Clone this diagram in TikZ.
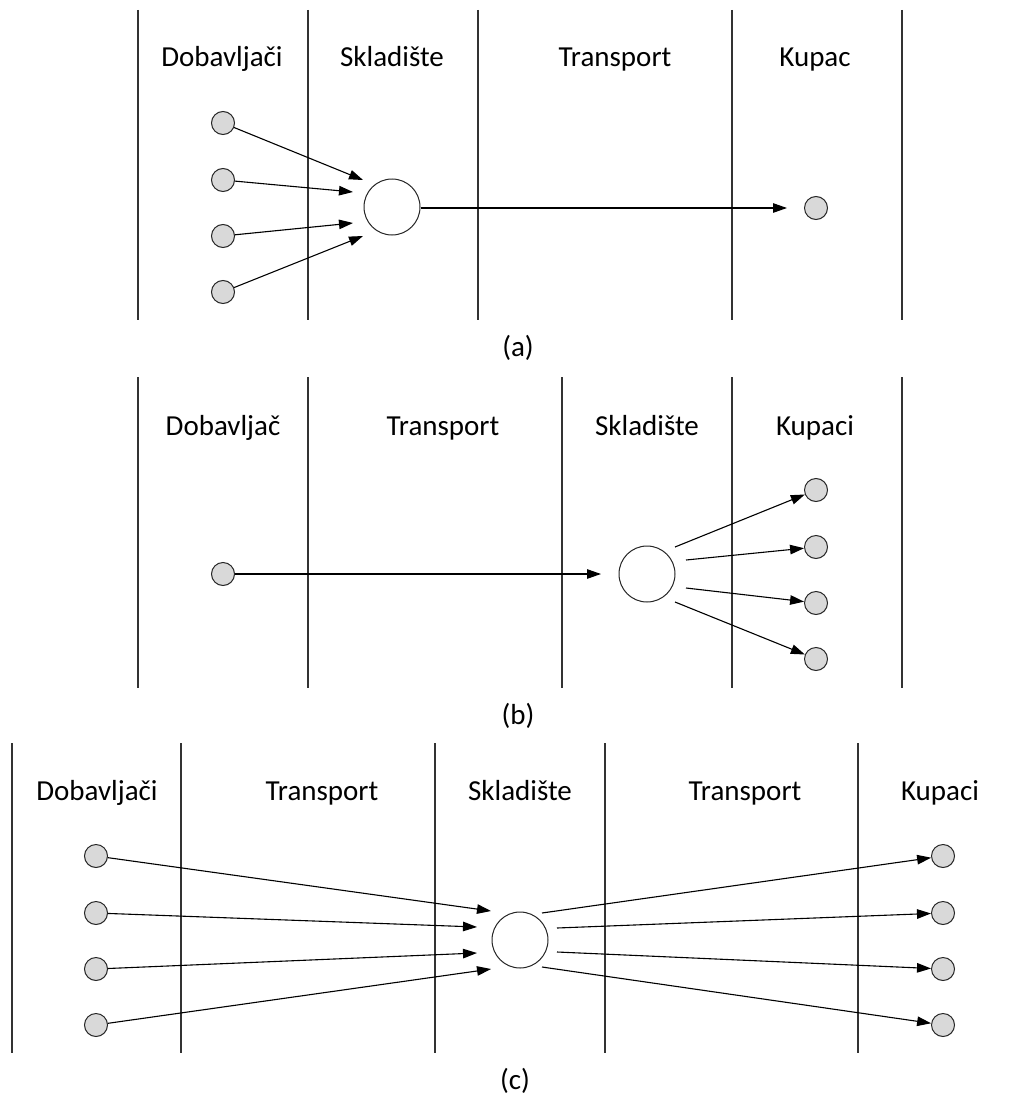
\documentclass[tikz,border=0pt]{standalone}
\usepackage{fontspec}
\setmainfont{Carlito}
\usetikzlibrary{arrows.meta}
\definecolor{cfill}{HTML}{D9D9D9}
\tikzset{
  lane/.style={draw=black!80, line width=1.1pt},
  lbl/.style={anchor=base, inner sep=0pt, font=\fontsize{29}{34}\selectfont},
  small/.style={circle, draw=black!85, fill=cfill, line width=1pt, minimum size=23pt, inner sep=0pt},
  big/.style={circle, draw=black!85, fill=white, line width=1pt, minimum size=56pt, inner sep=0pt},
  arr/.style={draw=black, line width=1.1pt, -{Triangle[length=14pt,width=9.5pt]}},
  ln/.style={draw=black, line width=1.1pt}
}
\begin{document}
\begin{tikzpicture}[x=1pt,y=-1pt]
\useasboundingbox (0,0) rectangle (1021,1097);
% ---------------- (a)
\foreach \xx in {138,308,478,732,902} \draw[lane] (\xx,10) -- (\xx,320);
\node[lbl] (a-l1) at (222,67) {Dobavljači};
\node[lbl] (a-l2) at (392,67) {Skladište};
\node[lbl] (a-l3) at (615,67) {Transport};
\node[lbl] (a-l4) at (815,67) {Kupac};
\node[small] (a-s1) at (223,123) {};
\node[small] (a-s2) at (223,180) {};
\node[small] (a-s3) at (223,236) {};
\node[small] (a-s4) at (223,292) {};
\node[big] (a-w) at (392,207) {};
\node[small] (a-k) at (816,208) {};
\coordinate (a-t1) at (363,180);
\coordinate (a-t2) at (353,192);
\coordinate (a-t3) at (353,223);
\coordinate (a-t4) at (363,236);
\coordinate (a-t5) at (787,208);
\draw[arr] (a-s1) -- (a-t1);
\draw[arr] (a-s2) -- (a-t2);
\draw[arr] (a-s3) -- (a-t3);
\draw[arr] (a-s4) -- (a-t4);
\draw[arr] (a-w.east |- a-t5) -- (a-t5);
\node[lbl] (a-cap) at (518,356) {(a)};
% ---------------- (b)
\foreach \xx in {138,308,562,732,902} \draw[lane] (\xx,377) -- (\xx,688);
\node[lbl] (b-l1) at (223,435) {Dobavljač};
\node[lbl] (b-l2) at (443,435) {Transport};
\node[lbl] (b-l3) at (647,435) {Skladište};
\node[lbl] (b-l4) at (815,435) {Kupaci};
\node[small] (b-s) at (223,574) {};
\node[big] (b-w) at (647,574) {};
\node[small] (b-k1) at (816,490) {};
\node[small] (b-k2) at (816,547) {};
\node[small] (b-k3) at (816,603) {};
\node[small] (b-k4) at (816,659) {};
\coordinate (b-t) at (601,574);
\coordinate (b-o1) at (675,547);
\coordinate (b-o2) at (686,560);
\coordinate (b-o3) at (686,588);
\coordinate (b-o4) at (675,602);
\draw[arr] (b-s) -- (b-t);
\draw[arr] (b-o1) -- (b-k1);
\draw[arr] (b-o2) -- (b-k2);
\draw[arr] (b-o3) -- (b-k3);
\draw[arr] (b-o4) -- (b-k4);
\node[lbl] (b-cap) at (518,724) {(b)};
% ---------------- (c)
\foreach \xx in {12,181,435,605,858} \draw[lane] (\xx,743) -- (\xx,1053);
\node[lbl] (c-l1) at (97,800) {Dobavljači};
\node[lbl] (c-l2) at (322,800) {Transport};
\node[lbl] (c-l3) at (520,800) {Skladište};
\node[lbl] (c-l4) at (745,800) {Transport};
\node[lbl] (c-l5) at (940,800) {Kupaci};
\node[small] (c-s1) at (96,856) {};
\node[small] (c-s2) at (96,913) {};
\node[small] (c-s3) at (96,969) {};
\node[small] (c-s4) at (96,1025) {};
\node[big] (c-w) at (520,940) {};
\node[small] (c-k1) at (943,856) {};
\node[small] (c-k2) at (943,913) {};
\node[small] (c-k3) at (943,969) {};
\node[small] (c-k4) at (943,1025) {};
\coordinate (c-t1) at (491,911);
\coordinate (c-t2) at (477,927);
\coordinate (c-t3) at (477,953);
\coordinate (c-t4) at (491,969);
\coordinate (c-o1) at (542,913);
\coordinate (c-o2) at (557,928);
\coordinate (c-o3) at (557,952);
\coordinate (c-o4) at (542,967);
\draw[arr] (c-s1) -- (c-t1);
\draw[arr] (c-s2) -- (c-t2);
\draw[arr] (c-s3) -- (c-t3);
\draw[arr] (c-s4) -- (c-t4);
\draw[arr] (c-o1) -- (c-k1);
\draw[arr] (c-o2) -- (c-k2);
\draw[arr] (c-o3) -- (c-k3);
\draw[arr] (c-o4) -- (c-k4);
\node[lbl] (c-cap) at (515,1089) {(c)};
\end{tikzpicture}
\end{document}
